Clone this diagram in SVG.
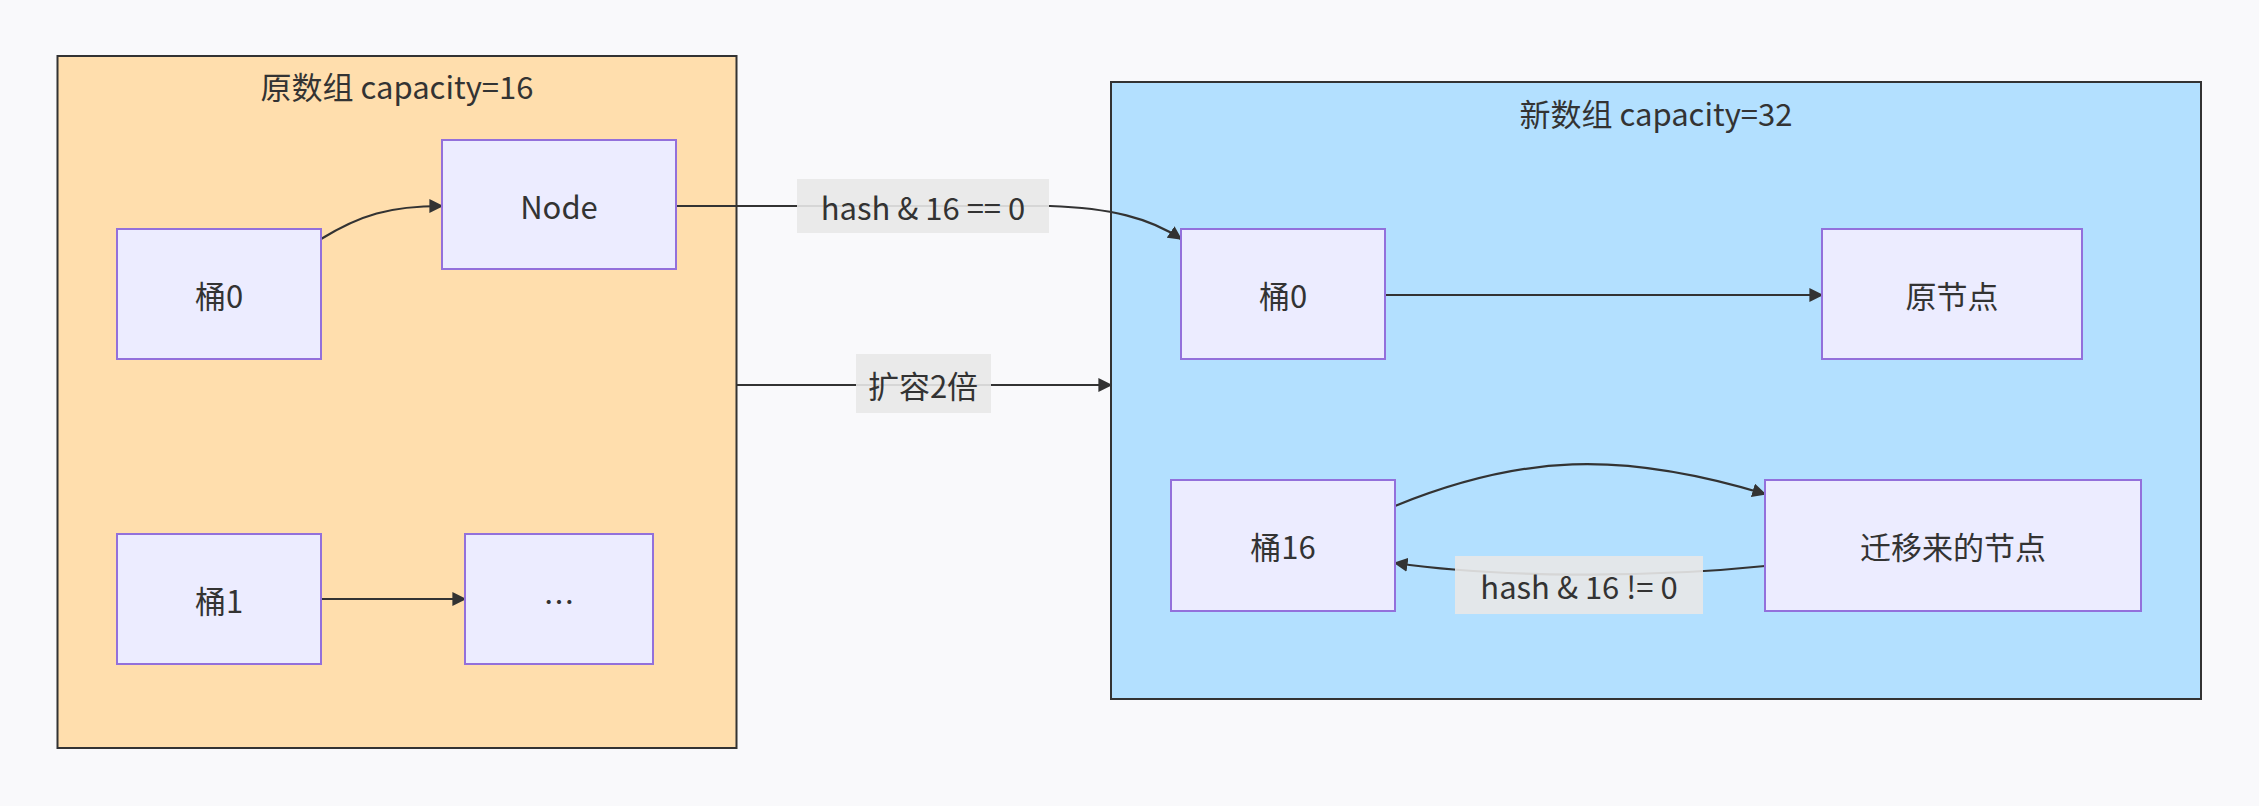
<svg xmlns="http://www.w3.org/2000/svg" width="2259" height="806" viewBox="0 0 2259 806">
<style>
.n rect{fill:#ECECFF;stroke:#9370DB;stroke-width:2}
text{font-family:"Noto Sans CJK SC","Liberation Sans",sans-serif;font-size:31px;fill:#333;text-anchor:middle;dominant-baseline:central}
.e{fill:none;stroke:#333;stroke-width:2.2;marker-end:url(#a)}
.lb{fill:#e8e8e8;opacity:0.9}
</style>
<defs><marker id="a" viewBox="0 0 10 10" refX="9" refY="5" markerWidth="9" markerHeight="9" markerUnits="userSpaceOnUse" orient="auto"><path d="M0,0L10,5L0,10z" fill="#333"/></marker>
<marker id="b" viewBox="0 0 10 10" refX="9" refY="5" markerWidth="14" markerHeight="14" orient="auto" markerUnits="userSpaceOnUse"><path d="M0,0L10,5L0,10z" fill="#333"/></marker></defs>
<rect width="2259" height="806" fill="#f9f9fb"/>
<g id="old"><rect x="57.5" y="56" width="679" height="692" fill="#FFDEAD" stroke="#333" stroke-width="2"/><text x="397" y="85">原数组 capacity=16</text></g>
<g id="new"><rect x="1111" y="82" width="1090" height="617" fill="#B3E0FF" stroke="#333" stroke-width="2"/><text x="1656" y="112">新数组 capacity=32</text></g>
<g id="edges">
<path class="e" style="marker-end:url(#b)" d="M321,239 C360,215 390,206 442,206"/>
<path class="e" style="marker-end:url(#b)" d="M676,206 L1050,206 C1110,208 1150,218 1181,239"/>
<path class="e" style="marker-end:url(#b)" d="M1385,295 L1822,295"/>
<path class="e" style="marker-end:url(#b)" d="M321,599 L465,599"/>
<path class="e" style="marker-end:url(#b)" d="M736,385 L1111,385"/>
<path class="e" style="marker-end:url(#b)" d="M1395,506 C1520,455 1620,450 1765,494"/>
<path class="e" style="marker-end:url(#b)" d="M1765,566 C1650,578 1500,578 1395,563"/>
<rect class="lb" x="797" y="179" width="252" height="54"/><text x="923" y="206">hash &amp; 16 == 0</text>
<rect class="lb" x="856" y="354" width="135" height="59"/><text x="923" y="384">扩容2倍</text>
<rect class="lb" x="1455" y="556" width="248" height="58"/><text x="1579" y="585">hash &amp; 16 != 0</text>
</g>
<g id="n1" class="n"><rect x="442" y="140" width="234" height="129"/><text x="559" y="205">Node</text></g>
<g id="n2" class="n"><rect x="117" y="229" width="204" height="130"/><text x="219" y="294">桶0</text></g>
<g id="n3" class="n"><rect x="117" y="534" width="204" height="130"/><text x="219" y="599">桶1</text></g>
<g id="n4" class="n"><rect x="465" y="534" width="188" height="130"/><text x="559" y="599">…</text></g>
<g id="n5" class="n"><rect x="1181" y="229" width="204" height="130"/><text x="1283" y="294">桶0</text></g>
<g id="n6" class="n"><rect x="1822" y="229" width="260" height="130"/><text x="1952" y="294">原节点</text></g>
<g id="n7" class="n"><rect x="1171" y="480" width="224" height="131"/><text x="1283" y="545">桶16</text></g>
<g id="n8" class="n"><rect x="1765" y="480" width="376" height="131"/><text x="1953" y="545">迁移来的节点</text></g>
</svg>
